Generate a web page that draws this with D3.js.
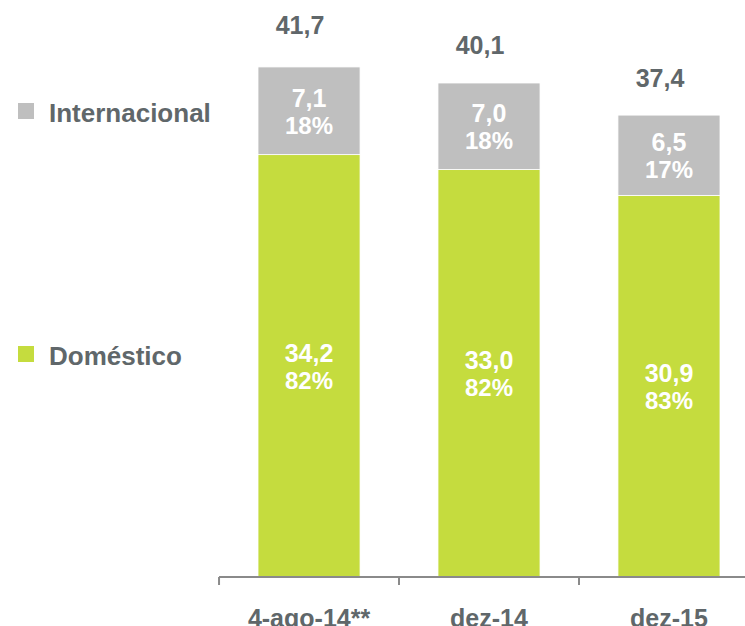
<!DOCTYPE html>
<html>
<head>
<meta charset="utf-8">
<script src="https://cdn.jsdelivr.net/npm/d3@7"></script>
<style>
  html, body { margin: 0; padding: 0; background: #fff; }
  svg { display: block; }
  text { font-family: "Liberation Sans", Arial, sans-serif; font-weight: bold; }
</style>
</head>
<body>
<svg id="chart" width="745" height="626"></svg>
<script>
// Passenger volume by period (Doméstico + Internacional)
const categories = ["4-ago-14**", "dez-14", "dez-15"];
const domestico = [34.2, 33.0, 30.9];
const internacional = [7.1, 7.0, 6.5];
const totals = [41.7, 40.1, 37.4];
const domesticoPct = ["82%", "82%", "83%"];
const internacionalPct = ["18%", "18%", "17%"];
const seriesNames = ["Internacional", "Doméstico"];

const fmt = v => d3.format(".1f")(v).replace(".", ",");

const colors = { Internacional: "#bfbfbf", "Doméstico": "#c5dc3e" };
const textColor = "#60676a";

const svg = d3.select("#chart");

const x = d3.scaleBand()
  .domain(categories)
  .range([219, 759])
  .paddingInner(0.433)
  .paddingOuter(0.2167);

const y = d3.scaleLinear()
  .domain([0, 41.7])
  .range([577, 62]);

const rows = categories.map((c, i) => ({
  cat: c,
  dom: domestico[i],
  intl: internacional[i],
  total: totals[i],
  domPct: domesticoPct[i],
  intlPct: internacionalPct[i]
}));

// stacked segments
const bars = svg.append("g");
rows.forEach(r => {
  const x0 = x(r.cat), w = x.bandwidth();
  bars.append("rect")
    .attr("x", x0).attr("width", w)
    .attr("y", y(r.dom)).attr("height", y(0) - y(r.dom))
    .attr("fill", colors["Doméstico"])
    .attr("stroke", "#fff").attr("stroke-width", 0.8);
  bars.append("rect")
    .attr("x", x0).attr("width", w)
    .attr("y", y(r.dom + r.intl)).attr("height", y(r.dom) - y(r.dom + r.intl))
    .attr("fill", colors.Internacional)
    .attr("stroke", "#fff").attr("stroke-width", 0.8);
});

// in-bar value + share labels
const labels = svg.append("g").attr("fill", "#fff").attr("text-anchor", "middle");
rows.forEach(r => {
  const cx = x(r.cat) + x.bandwidth() / 2;
  const segs = [
    { v: r.dom, p: r.domPct, mid: (y(0) + y(r.dom)) / 2 },
    { v: r.intl, p: r.intlPct, mid: (y(r.dom) + y(r.dom + r.intl)) / 2 }
  ];
  segs.forEach(s => {
    labels.append("text")
      .attr("x", cx).attr("y", s.mid - 4)
      .attr("font-size", 25)
      .text(fmt(s.v));
    labels.append("text")
      .attr("x", cx).attr("y", s.mid + 23)
      .attr("font-size", 24)
      .text(s.p);
  });
});

// totals above bars
svg.append("g").attr("fill", textColor).attr("text-anchor", "middle")
  .selectAll("text").data(rows).join("text")
  .attr("x", d => x(d.cat) + x.bandwidth() / 2 - 9)
  .attr("y", d => y(d.total) - 28)
  .attr("font-size", 25)
  .text(d => fmt(d.total));

// baseline axis with ticks between categories
const axis = svg.append("g").attr("stroke", "#8a8a8a").attr("stroke-width", 2);
const step = x.step();
const edges = categories.map(c => x(c) - step * x.paddingInner() / 2)
  .concat([x(categories[categories.length - 1]) + x.bandwidth() + step * x.paddingInner() / 2]);
axis.append("line")
  .attr("x1", edges[0]).attr("x2", edges[edges.length - 1])
  .attr("y1", y(0)).attr("y2", y(0));
axis.selectAll("line.tick").data(edges).join("line")
  .attr("class", "tick")
  .attr("x1", d => d).attr("x2", d => d)
  .attr("y1", y(0)).attr("y2", y(0) + 8);

// category labels
svg.append("g").attr("fill", textColor).attr("text-anchor", "middle")
  .selectAll("text").data(categories).join("text")
  .attr("x", d => x(d) + x.bandwidth() / 2)
  .attr("y", 627)
  .attr("font-size", 25)
  .text(d => d);

// legend, aligned with each segment
const legendY = { Internacional: 111, "Doméstico": 354 };
const legend = svg.append("g");
seriesNames.forEach(n => {
  legend.append("rect")
    .attr("x", 18).attr("y", legendY[n] - 8)
    .attr("width", 16).attr("height", 16)
    .attr("fill", colors[n]);
  legend.append("text")
    .attr("x", 49).attr("y", legendY[n] + 11)
    .attr("font-size", 26)
    .attr("fill", textColor)
    .text(n);
});
</script>
</body>
</html>
